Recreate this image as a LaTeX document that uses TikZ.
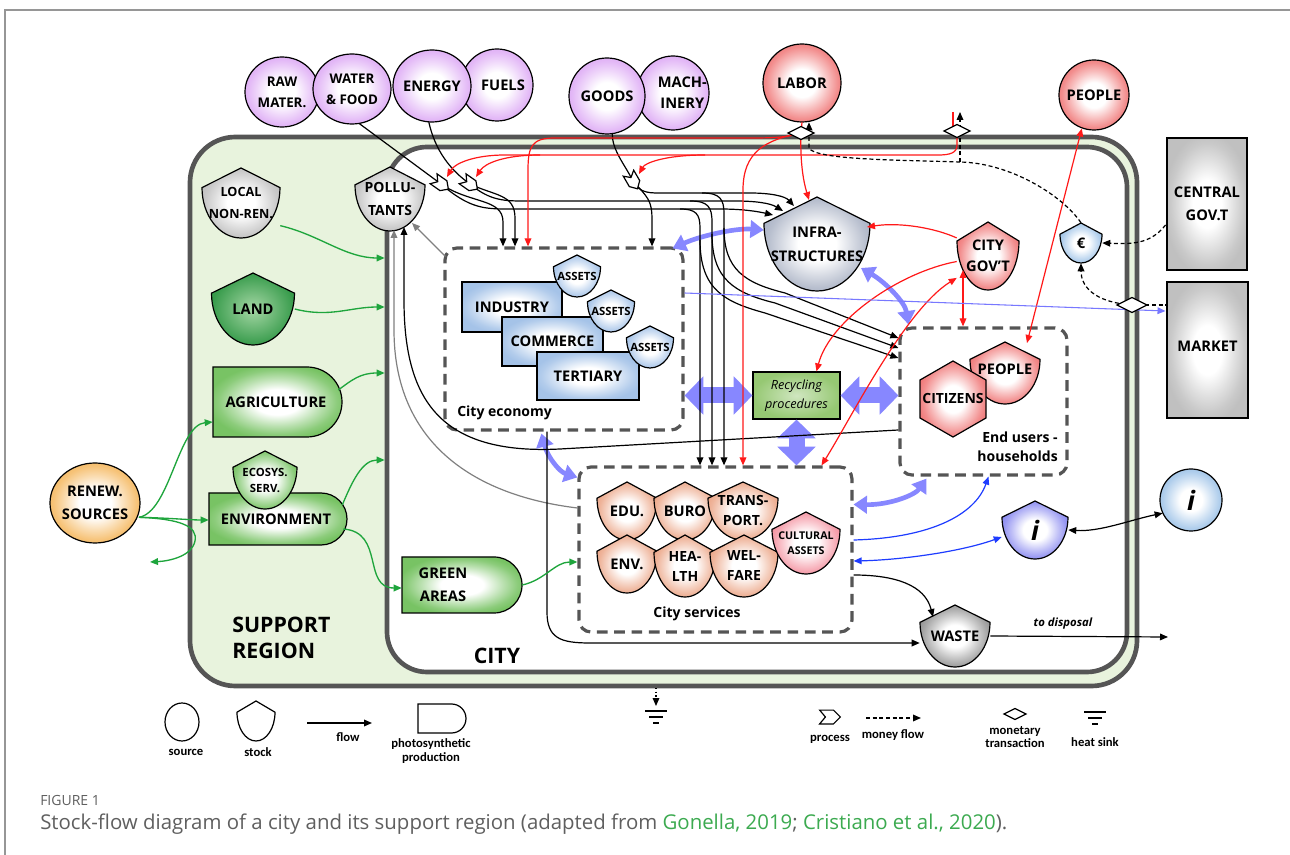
\documentclass[tikz,border=0pt]{standalone}
\usepackage{fontspec}
\setmainfont{Open Sans}
\newfontfamily\legfont{Carlito}
\usetikzlibrary{arrows.meta,calc,shapes.geometric}
\definecolor{regionline}{RGB}{85,85,85}
\definecolor{supfill}{RGB}{232,243,221}
\definecolor{purp}{RGB}{222,172,245}
\definecolor{redf}{RGB}{240,122,122}
\definecolor{grayf}{RGB}{192,192,192}
\definecolor{infraf}{RGB}{172,180,198}
\definecolor{wastef}{RGB}{150,150,150}
\definecolor{bluef}{RGB}{165,195,232}
\definecolor{salmon}{RGB}{236,168,138}
\definecolor{pinkf}{RGB}{244,148,162}
\definecolor{landf}{RGB}{55,155,75}
\definecolor{landin}{RGB}{165,215,165}
\definecolor{greenf}{RGB}{120,195,100}
\definecolor{recycf}{RGB}{150,200,115}
\definecolor{orangef}{RGB}{245,185,98}
\definecolor{istockf}{RGB}{138,138,240}
\definecolor{lblue}{RGB}{160,196,232}
\definecolor{boxgray}{RGB}{192,192,192}
\definecolor{flowred}{RGB}{255,25,25}
\definecolor{flowgreen}{RGB}{30,165,60}
\definecolor{flowblue}{RGB}{30,60,255}
\definecolor{lav}{RGB}{135,135,255}
\definecolor{mktline}{RGB}{120,120,255}
\definecolor{capgray}{RGB}{95,95,95}
\definecolor{capgreen}{RGB}{60,170,80}
\definecolor{framegray}{RGB}{150,150,150}
\colorlet{shout}{gray}
\pgfdeclareradialshading[shout]{softrad}{\pgfpoint{0bp}{0bp}}{color(0bp)=(shout!0!white); color(9bp)=(shout!0!white); color(17bp)=(shout!50!white); color(23bp)=(shout!85!white); color(27bp)=(shout!100!white); color(50bp)=(shout!100!white)}
\newcommand\lblsmall{\bfseries\fontsize{10}{16}\selectfont}
\newcommand\lblmid{\bfseries\fontsize{10.5}{15}\selectfont}
\newcommand\lbltiny{\bfseries\fontsize{8.5}{12}\selectfont}
% stock: name cx cy w h shadeopts text nodeopts
\newcommand\stockshape[8]{%
  \shadedraw[shapeline, #6]
   (#2,{#3-#5/2}) -- ({#2+#4/2},{#3-0.22*#5})
   .. controls ({#2+#4/2},{#3+0.18*#5}) and ({#2+0.276*#4},{#3+#5/2}) .. (#2,{#3+#5/2})
   .. controls ({#2-0.276*#4},{#3+#5/2}) and ({#2-#4/2},{#3+0.18*#5}) .. ({#2-#4/2},{#3-0.22*#5}) -- cycle;
  \node[lbl, minimum width={#4*0.75pt}, minimum height={#5*0.75pt}, #8] (#1) at (#2,#3) {#7};}
% source: name cx cy rx ry shadeopts text nodeopts
\newcommand\srcshape[8]{%
  \shadedraw[shapeline, #6] (#2,#3) ellipse [x radius=#4, y radius=#5];
  \node[lbl, ellipse, minimum width={2*#4*0.75pt}, minimum height={2*#5*0.75pt}, #8] (#1) at (#2,#3) {#7};}
% photosynthetic: name x1 y1 x2 y2 shadeopts text textx
\newcommand\photoshape[8]{%
  \shadedraw[shapeline, #6] (#2,#3) -- ({#4-(#5-#3)/2},#3)
   .. controls ({#4-0.224*(#5-#3)},#3) and (#4,{#3+0.224*(#5-#3)}) .. (#4,{(#3+#5)/2})
   .. controls (#4,{#5-0.224*(#5-#3)}) and ({#4-0.224*(#5-#3)},#5) .. ({#4-(#5-#3)/2},#5) -- (#2,#5) -- cycle;
  \node[inner sep=0pt, minimum width={(#4-#2)*0.75pt}, minimum height={(#5-#3)*0.75pt}] (#1) at ({(#2+#4)/2},{(#3+#5)/2}) {};
  \node[lbl] (#1-t) at (#8,{(#3+#5)/2}) {#7};}
\newcommand\chevshape[4]{%
  \draw[shapeline, fill=white, shift={(#1,#2)}, rotate=#3, scale=#4] (-9,-6) -- (3,-6) -- (9,0) -- (3,6) -- (-9,6) -- (-4,0) -- cycle;}
\newcommand\moneydiamond[3]{%
  \draw[shapeline, fill=white] ({#1-#3},#2) -- (#1,{#2-#3/2}) -- ({#1+#3},#2) -- (#1,{#2+#3/2}) -- cycle;}
\begin{document}
\begin{tikzpicture}[x=0.75pt,y=-0.75pt,
  sr/.style={/utils/exec={\colorlet{shout}{#1}}, shade, shading=softrad},
  shapeline/.style={draw=black, line width=0.9pt},
  lbl/.style={font=\bfseries\fontsize{11}{17}\selectfont, align=center, inner sep=0pt, text=black},
  dbox/.style={draw=regionline, line width=2.4pt, dash pattern=on 8pt off 5pt, rounded corners=9pt, inner sep=0pt},
  fl/.style={draw=black, line width=0.9pt},
  arr/.style={-{Triangle[length=6pt,width=5pt]}},
  darr/.style={{Triangle[length=6pt,width=5pt]}-{Triangle[length=6pt,width=5pt]}},
  rfl/.style={draw=flowred, line width=0.9pt},
  gfl/.style={draw=flowgreen, line width=1pt},
  bfl/.style={draw=flowblue, line width=0.9pt},
  lavthick/.style={draw=lav, line width=3.5pt, {Triangle[length=10pt,width=13pt]}-{Triangle[length=10pt,width=13pt]}},
  lavfat/.style={draw=lav, line width=12pt, {Triangle[length=14pt,width=28pt]}-{Triangle[length=14pt,width=28pt]}},
  money/.style={draw=black, line width=0.9pt, dash pattern=on 3pt off 2pt},
  leg/.style={font=\legfont\bfseries\fontsize{9.5}{10}\selectfont, align=center, inner sep=0pt}
]
\useasboundingbox (0,0) rectangle (1290,855);
\fill[white] (0,0) rectangle (1290,855);
\draw[framegray, line width=0.8pt] (5,855) -- (5,10) -- (1290,10);

% regions
\node[draw=regionline, line width=3.5pt, fill=supfill, rounded corners=34pt, inner sep=0pt,
  minimum width=947*0.75pt, minimum height=549*0.75pt] (support) at (663.5,411.5) {};
\node[draw=regionline, line width=3.5pt, fill=white, rounded corners=30pt, inner sep=0pt,
  minimum width=740*0.75pt, minimum height=525*0.75pt] (city) at (757,409.5) {};
\node[anchor=west, align=left, font=\bfseries\fontsize{16}{20}\selectfont, inner sep=0pt] (suplbl) at (232,638) {SUPPORT\\REGION};
\node[font=\bfseries\fontsize{16}{20}\selectfont, inner sep=0pt] (citylbl) at (497,656) {CITY};

% dashed boxes
\node[dbox, minimum width=238*0.75pt, minimum height=182*0.75pt] (econbox) at (564,339) {};
\node[dbox, minimum width=167*0.75pt, minimum height=147*0.75pt] (usersbox) at (983.5,401.5) {};
\node[dbox, minimum width=273*0.75pt, minimum height=165*0.75pt] (servbox) at (715.5,549.5) {};
\node[anchor=west, font=\bfseries\fontsize{10.5}{12}\selectfont, inner sep=0pt] (econlbl) at (457,413) {City economy};
\node[font=\bfseries\fontsize{10.5}{12}\selectfont, inner sep=0pt] (servlbl) at (697,614) {City services};
\node[anchor=east, align=right, font=\bfseries\fontsize{10.5}{14.5}\selectfont, inner sep=0pt] (userslbl) at (1058,447) {End users -\\households};

% sources
\srcshape{rawm}{282}{92}{37}{35}{sr=purp}{RAW\\MATER.}{font=\lblsmall}
\srcshape{water}{352}{89}{39}{35}{sr=purp}{WATER\\\& FOOD}{font=\lblsmall}
\srcshape{fuels}{497}{85}{36}{36}{sr=purp}{\hspace*{9pt}FUELS}{}
\srcshape{energy}{432}{86}{39}{36}{sr=purp}{ENERGY}{}
\srcshape{mach}{673}{93}{36}{37}{sr=purp}{\hspace*{14pt}MACH-\\\hspace*{14pt}INERY}{font=\bfseries\fontsize{11}{16}\selectfont}
\srcshape{goods}{607}{96}{38}{38}{sr=purp}{GOODS}{}
\srcshape{labor}{802}{83}{39}{39}{sr=redf}{LABOR}{}
\srcshape{peopletop}{1094}{95}{35}{35}{sr=redf}{PEOPLE}{}
\srcshape{renew}{95}{503}{45}{40}{sr=orangef}{RENEW.\\SOURCES}{}
\srcshape{isrc}{1191}{500}{31}{31}{sr=lblue}{\textit{i}}{font=\bfseries\itshape\fontsize{20}{20}\selectfont}

% stocks in support region
\stockshape{localnr}{241}{203}{78}{70}{sr=grayf}{LOCAL\\NON-REN.}{font=\bfseries\fontsize{9.5}{16}\selectfont}
\stockshape{pollut}{390}{199}{70}{64}{sr=grayf}{POLLU-\\TANTS}{font=\bfseries\fontsize{10.5}{17}\selectfont}
\stockshape{land}{253}{309}{83}{72}{inner color=landin, outer color=landf}{LAND}{}
\photoshape{agri}{213}{367}{342}{437}{sr=greenf}{AGRICULTURE}{276}
\photoshape{environ}{209}{493}{347}{545}{sr=greenf}{ENVIRONMENT}{276}
\stockshape{ecosys}{265}{480}{64}{58}{sr=greenf}{ECOSYS.\\SERV.}{font=\lbltiny}
\photoshape{green}{402}{557}{522}{613}{sr=greenf}{GREEN\\AREAS}{443}

% city economy
\node[lbl, draw=black, line width=0.9pt, sr=bluef, minimum width=100*0.75pt, minimum height=50*0.75pt] (industry) at (512,307) {INDUSTRY};
\stockshape{assets1}{577}{276}{47}{42}{sr=bluef}{ASSETS}{font=\lbltiny}
\node[lbl, draw=black, line width=0.9pt, sr=bluef, minimum width=101*0.75pt, minimum height=49*0.75pt] (commerce) at (552.5,341.5) {COMMERCE};
\stockshape{assets2}{611}{311}{47}{42}{sr=bluef}{ASSETS}{font=\lbltiny}
\node[lbl, draw=black, line width=0.9pt, sr=bluef, minimum width=102*0.75pt, minimum height=48*0.75pt] (tertiary) at (588,376) {TERTIARY};
\stockshape{assets3}{650}{347}{47}{42}{sr=bluef}{ASSETS}{font=\lbltiny}

% infrastructures, government
\stockshape{infra}{817}{244}{106}{94}{sr=infraf}{INFRA-\\STRUCTURES}{font=\bfseries\fontsize{11}{18}\selectfont}
\stockshape{citygov}{988}{256}{62}{68}{sr=redf}{CITY\\GOV'T}{font=\bfseries\fontsize{11}{16}\selectfont}
\stockshape{euro}{1081}{243}{42}{40}{sr=lblue}{€}{}
\node[lbl, draw=black, line width=2.2pt, sr=boxgray, minimum width=80*0.75pt, minimum height=132*0.75pt] (centralgov) at (1207,204) {CENTRAL\\GOV.T};
\node[lbl, draw=black, line width=2.2pt, sr=boxgray, minimum width=81*0.75pt, minimum height=136*0.75pt] (market) at (1207.5,350) {\raisebox{5pt}{MARKET}};
\node[draw=black, line width=0.9pt, inner color=white!55!recycf, outer color=recycf, minimum width=87*0.75pt, minimum height=47*0.75pt, font=\itshape\fontsize{9.5}{14}\selectfont, align=center, inner sep=0pt] (recyc) at (796.5,395.5) {Recycling\\procedures};

% end users
\stockshape{people2}{1005}{373}{70}{62}{sr=redf}{\raisebox{6pt}{PEOPLE}}{}
\shadedraw[shapeline, sr=redf] (953,361) -- (986,380) -- (986,418) -- (953,437) -- (920,418) -- (920,380) -- cycle;
\node[lbl, minimum width=66*0.75pt, minimum height=76*0.75pt, font=\bfseries\fontsize{10.5}{12}\selectfont] (citizens) at (953,399) {CITIZENS};

% city services
\stockshape{edu}{627}{511}{60}{58}{sr=salmon}{EDU.}{}
\stockshape{buro}{685}{511}{62}{58}{sr=salmon}{BURO}{}
\stockshape{transp}{743}{511}{70}{58}{sr=salmon}{TRANS-\\PORT.}{font=\lblmid}
\stockshape{envs}{627}{564}{60}{58}{sr=salmon}{ENV.}{}
\stockshape{health}{685}{566}{62}{62}{sr=salmon}{HEA-\\LTH}{font=\lblmid}
\stockshape{welfare}{744}{566}{68}{62}{sr=salmon}{WEL-\\FARE}{font=\lblmid}
\stockshape{cultural}{806}{543}{68}{62}{sr=pinkf}{CULTURAL\\ASSETS}{font=\bfseries\fontsize{8}{11}\selectfont}

\stockshape{istock}{1035}{530}{66}{58}{sr=istockf}{\textit{i}}{font=\bfseries\itshape\fontsize{20}{20}\selectfont}
\stockshape{waste}{955}{636}{70}{62}{sr=wastef}{WASTE}{}

% coordinates for processes, transactions, free ends
\coordinate (p1) at (441,184);
\coordinate (p2) at (470,184);
\coordinate (p3) at (633,181);
\coordinate (d1) at (801,133);
\coordinate (d2) at (957,131);
\coordinate (d3) at (1132,305);
\coordinate (j1) at (680,209);
\coordinate (j2) at (690,201);
\coordinate (j3) at (702,193);
\coordinate (k1) at (700,240);
\coordinate (k2) at (712,234);
\coordinate (k3) at (724,228);
\coordinate (r1) at (540,155);
\coordinate (r2) at (705,155);
\coordinate (rin) at (953,112);
\coordinate (jd) at (960,162);
\coordinate (mout) at (960,112);
\coordinate (disposal) at (1168,637);
\coordinate (gout) at (150,562);

% lavender exchanges
\draw[lavthick] ($(econbox.north east)+(-12,2)$) .. controls (700,236) and (735,228) .. ($(infra.west)+(0,-14)$);
\draw[lavthick] ($(infra)+(44,24)$) .. controls (885,282) and (905,302) .. ($(usersbox.north west)+(10,-2)$);
\draw[lavthick] ($(econbox.south west)+(98,2)$) .. controls (548,458) and (560,472) .. ($(servbox.north west)+(0,12)$);
\draw[lavthick] ($(servbox.east)+(0,-45)$) .. controls (890,505) and (915,495) .. ($(usersbox.south west)+(28,2)$);
\draw[lavfat] (econbox.east |- recyc.west) -- (recyc.west);
\draw[lavfat] (recyc.east) -- (usersbox.west |- recyc.east);
\draw[lavfat] (recyc.south) -- (recyc.south |- servbox.north);

% black flows
\draw[fl] (water.-78) -- (p1);
\draw[fl] (energy.-95) .. controls (435,150) and (450,170) .. (p2);
\draw[fl] (goods.-82) .. controls (612,150) and (625,165) .. (p3);
\draw[fl,arr] (p1) .. controls (470,204) and (503,198) .. (503,222) -- (503,0 |- econbox.north);
\draw[fl,arr] (p2) .. controls (495,196) and (515,194) .. (515,218) -- (515,0 |- econbox.north);
\draw[fl,arr] (p3) .. controls (648,198) and (652,200) .. (652,220) -- (652,0 |- econbox.north);
\draw[fl,arr] (p1) .. controls (470,209) and (485,209) .. (510,209) -- (j1) -- (720,209) .. controls (745,209) and (760,212) .. ($(infra)+(-44,-29)$);
\draw[fl,arr] (p2) .. controls (490,201) and (505,201) .. (525,201) -- (j2) -- (735,201) .. controls (755,201) and (770,203) .. ($(infra)+(-34,-33)$);
\draw[fl,arr] (p3) .. controls (640,194) and (650,193) .. (665,193) -- (j3) -- (750,193) .. controls (770,193) and (785,196) .. ($(infra)+(-23,-38)$);
\draw[fl,arr] (j1) .. controls (696,209) and (700,214) .. (700,228) -- (700,0 |- servbox.north);
\draw[fl,arr] (j2) .. controls (708,201) and (712,207) .. (712,222) -- (712,0 |- servbox.north);
\draw[fl,arr] (j3) .. controls (720,193) and (724,199) .. (724,214) -- (724,0 |- servbox.north);
\draw[fl,arr] (k1) .. controls (700,290) and (725,302) .. (765,313) -- (usersbox.west |- 0,358);
\draw[fl,arr] (k2) .. controls (712,280) and (735,293) .. (775,303) -- (usersbox.west |- 0,348);
\draw[fl,arr] (k3) .. controls (724,270) and (745,283) .. (785,293) -- (usersbox.west |- 0,338);
\draw[fl,arr] (usersbox.west |- 0,430) -- (560,449) .. controls (440,455) and (404,400) .. (404,300) -- ($(pollut)+(14,28)$);
\draw[fl,draw=gray,arr] (servbox.west |- 0,508) .. controls (470,495) and (394,440) .. (394,330) -- ($(pollut)+(4,31)$);
\draw[fl,draw=gray,arr] ($(econbox.north west)+(2,10)$) -- ($(pollut)+(22,24)$);
\draw[fl,arr] (547,0 |- econbox.south) -- (547,612) .. controls (547,638) and (560,643) .. (590,643) -- (waste.west |- 0,643);
\draw[fl,arr] (servbox.east |- 0,575) .. controls (895,575) and (925,585) .. ($(waste)+(-22,-19)$);
\draw[fl,arr] (waste.east) -- (disposal);
\node[font=\bfseries\itshape\fontsize{8.5}{10}\selectfont, inner sep=0pt] (disptxt) at (1063,624) {to disposal};
\draw[fl,darr] (istock.east) .. controls (1100,532) and (1130,520) .. (isrc.205);

% red flows
\draw[rfl] (labor.south) -- (d1);
\draw[rfl,arr] (d1) .. controls (785,138) and (770,138) .. (745,138) -- (555,138) .. controls (532,138) and (528,146) .. (528,170) -- (528,0 |- econbox.north);
\draw[rfl,arr] (d1) .. controls (765,140) and (743,152) .. (743,190) -- (743,0 |- servbox.north);
\draw[rfl,arr] (d1) .. controls (800,160) and (803,180) .. ($(infra)+(-8,-44)$);
\draw[rfl] (rin) -- (953,131);
\draw[rfl,arr] (d2) -- (957,145) .. controls (957,153) and (950,155) .. (938,155) -- (505,155) .. controls (475,155) and (455,163) .. ($(p1)+(6,-7)$);
\draw[rfl,arr] (r1) .. controls (505,155) and (485,163) .. ($(p2)+(6,-7)$);
\draw[rfl,arr] (r2) .. controls (665,155) and (645,163) .. ($(p3)+(6,-7)$);
\draw[rfl,arr] (citygov.150) .. controls (935,228) and (900,222) .. ($(infra)+(50,-17)$);
\draw[rfl,arr] (citygov.190) .. controls (900,272) and (830,320) .. ($(recyc.north)+(20,0)$);
\draw[rfl,darr] (citygov.215) .. controls (905,310) and (850,420) .. ($(servbox.north)+(106,0)$);
\draw[rfl,darr] ($(citygov)+(-25,14)$) -- (963,0 |- usersbox.north);
\draw[rfl,darr] (peopletop.250) -- ($(people2)+(22,-30)$);

% green flows
\draw[gfl,arr] (localnr.-30) .. controls (320,235) and (345,258) .. (city.west |- 0,258);
\draw[gfl,arr] (land.east) .. controls (330,318) and (350,307) .. (city.west |- 0,307);
\draw[gfl,arr] ($(agri.east)+(-4,-12)$) .. controls (352,380) and (360,373) .. (city.west |- 0,373);
\draw[gfl,arr] ($(environ.east)+(-5,-14)$) .. controls (352,482) and (362,460) .. (city.west |- 0,460);
\draw[gfl,arr] ($(environ.east)+(-4,10)$) .. controls (385,532) and (362,588) .. (green.west |- 0,588);
\draw[gfl,arr] (green.east) .. controls (545,580) and (555,562) .. (servbox.west |- 0,562);
\draw[gfl,arr] (renew.-18) .. controls (170,512) and (178,425) .. (agri.west |- 0,422);
\draw[gfl,arr] (renew.-18) .. controls (170,518) and (190,520) .. (environ.west |- 0,520);
\draw[gfl,arr] (renew.-18) .. controls (180,519) and (198,526) .. (195,541) .. controls (192,556) and (170,561) .. (gout);

% blue flows
\draw[bfl,arr] (servbox.east |- 0,540) .. controls (930,538) and (975,515) .. ($(usersbox.south)+(5,0)$);
\draw[bfl,darr] (servbox.east |- 0,561) .. controls (900,560) and (960,552) .. ($(istock.west)+(0,7)$);
\draw[draw=mktline, line width=0.8pt, arr] (econbox.east |- 0,293) -- (market.west |- 0,311);

% money flows
\draw[money] (euro.north) .. controls (1062,195) and (1010,163) .. (jd);
\draw[money,arr] (jd) -- (mout);
\draw[money,arr] (jd) .. controls (900,160) and (815,160) .. (809,148) -- (809,0 |- labor.south);
\draw[money,arr] ($(centralgov.west)+(0,21)$) .. controls (1150,245) and (1130,244) .. (euro.east);
\draw[money] (d3) -- (market.west |- d3);
\draw[money,arr] (d3) .. controls (1092,302) and (1081,285) .. (euro.south);

% processes and transactions
\chevshape{441}{184}{-35}{1}
\chevshape{470}{184}{-35}{1}
\chevshape{633}{181}{-60}{1}
\moneydiamond{801}{133}{13}
\moneydiamond{957}{131}{13}
\moneydiamond{1132}{305}{15}

% heat sink below region
\coordinate (sinkA) at (656,688);
\coordinate (sinkB) at (656,706);
\draw[line width=0.8pt, dotted, arr] (sinkA) -- (sinkB);
\draw[line width=2pt] (645,711) -- (667,711) (649,717) -- (663,717) (653,723) -- (659,723);

% legend
\srcshape{legsrc}{182}{722}{17}{19}{sr=white}{}{}
\stockshape{legstock}{256}{721}{38}{40}{sr=white}{}{}
\coordinate (lfa) at (307,723);
\coordinate (lfb) at (372,723);
\draw[fl,arr] (lfa) -- (lfb);
\photoshape{legphoto}{418}{704}{466}{733}{sr=white}{}{442}
\chevshape{830}{717}{0}{1.15}
\coordinate (lma) at (866,718);
\coordinate (lmb) at (921,718);
\draw[money,arr] (lma) -- (lmb);
\moneydiamond{1015}{714}{11}
\draw[line width=2pt] (1084,712) -- (1106,712) (1088,718) -- (1102,718) (1092,724) -- (1098,724);
\node[leg] (l1) at (186,752) {source};
\node[leg] (l2) at (258,752) {stock};
\node[leg] (l3) at (348,737) {flow};
\node[leg] (l4) at (431,751) {photosynthetic\\production};
\node[leg] (l5) at (830,739) {process};
\node[leg] (l6) at (893,735) {money flow};
\node[leg] (l7) at (1015,737) {monetary\\transaction};
\node[leg] (l8) at (1095,742) {heat sink};

% caption
\node[anchor=base west, font=\fontsize{10.5}{12}\selectfont, text=capgray, inner sep=0pt] (figlbl) at (40,805) {FIGURE 1};
\node[anchor=base west, font=\fontsize{15.3}{17}\selectfont, text=capgray, inner sep=0pt] (caption) at (40,829) {Stock-flow diagram of a city and its support region (adapted from \textcolor{capgreen}{Gonella, 2019}; \textcolor{capgreen}{Cristiano et al., 2020}).};
\end{tikzpicture}
\end{document}
